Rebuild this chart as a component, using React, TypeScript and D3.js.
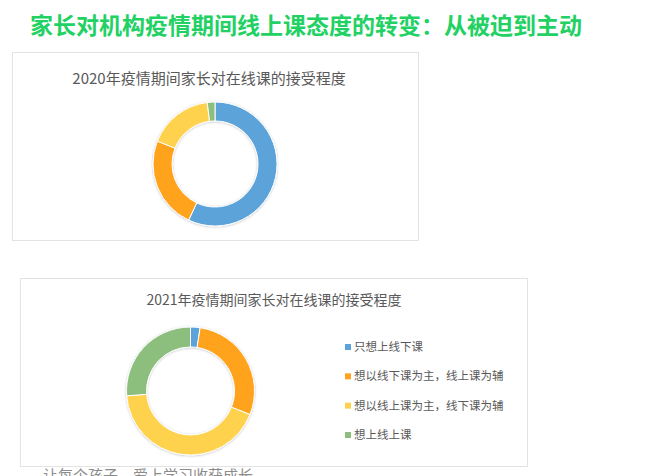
import React from "react";
import * as d3 from "d3";

const categories = [
  "只想上线下课",
  "想以线下课为主，线上课为辅",
  "想以线上课为主，线下课为辅",
  "想上线上课",
];
const values2020 = [57, 24, 17, 2];
const values2021 = [2.4, 28.6, 42.8, 26.2];
const colors = ["#5BA3DA", "#FFA21F", "#FFD24D", "#8CBF7E"];
const pageTitle = "家长对机构疫情期间线上课态度的转变：从被迫到主动";
const title2020 = "2020年疫情期间家长对在线课的接受程度";
const title2021 = "2021年疫情期间家长对在线课的接受程度";
const footer = "让每个孩子，爱上学习收获成长";

const FONT = "'Noto Sans CJK SC', 'Noto Sans', sans-serif";

function Donut({ values, cx, cy, r, ri }: { values: number[]; cx: number; cy: number; r: number; ri: number }) {
  const pie = d3.pie<number>().sort(null).value((d) => d);
  const arcs = pie(values);
  const arc = d3.arc<d3.PieArcDatum<number>>().innerRadius(ri).outerRadius(r);
  return (
    <g transform={`translate(${cx},${cy})`} filter="url(#shadow)">
      {arcs.map((a, i) => (
        <path key={i} d={arc(a) || ""} fill={colors[i]} stroke="#fff" strokeWidth={1} />
      ))}
    </g>
  );
}

export default function App() {
  const W = 645, H = 476;
  const legendY = d3.scalePoint<string>().domain(categories).range([347, 435]);
  return (
    <svg width={W} height={H} style={{ position: "absolute", left: 0, top: 0, background: "#fff" }} fontFamily={FONT}>
      <defs>
        <filter id="shadow" x="-20%" y="-20%" width="140%" height="140%">
          <feDropShadow dx="0" dy="0.5" stdDeviation="1.2" floodColor="#000" floodOpacity="0.25" />
        </filter>
      </defs>
      <rect x={0} y={0} width={W} height={H} fill="#fff" />
      <text x={306} y={34} textAnchor="middle" fontSize={23} fontWeight={700} fill="#22D163">{pageTitle}</text>

      <rect x={12.5} y={52.5} width={406} height={188} fill="#fff" stroke="#e3e3e3" />
      <text x={209} y={84} textAnchor="middle" fontSize={15} fill="#595959">{title2020}</text>
      <Donut values={values2020} cx={215} cy={164} r={62} ri={43} />

      <rect x={20.5} y={278.5} width={507} height={188} fill="#fff" stroke="#e3e3e3" />
      <text x={274} y={305} textAnchor="middle" fontSize={14} fill="#595959">{title2021}</text>
      <Donut values={values2021} cx={190.5} cy={391} r={64} ri={44} />

      {categories.map((c, i) => (
        <g key={c} transform={`translate(345,${legendY(c)})`}>
          <rect x={0} y={-3} width={6} height={6} fill={colors[i]} />
          <text x={9} y={4} fontSize={11.5} fill="#595959">{c}</text>
        </g>
      ))}

      <text x={43} y={481} fontSize={15} fill="#8c8c8c">{footer}</text>
    </svg>
  );
}
